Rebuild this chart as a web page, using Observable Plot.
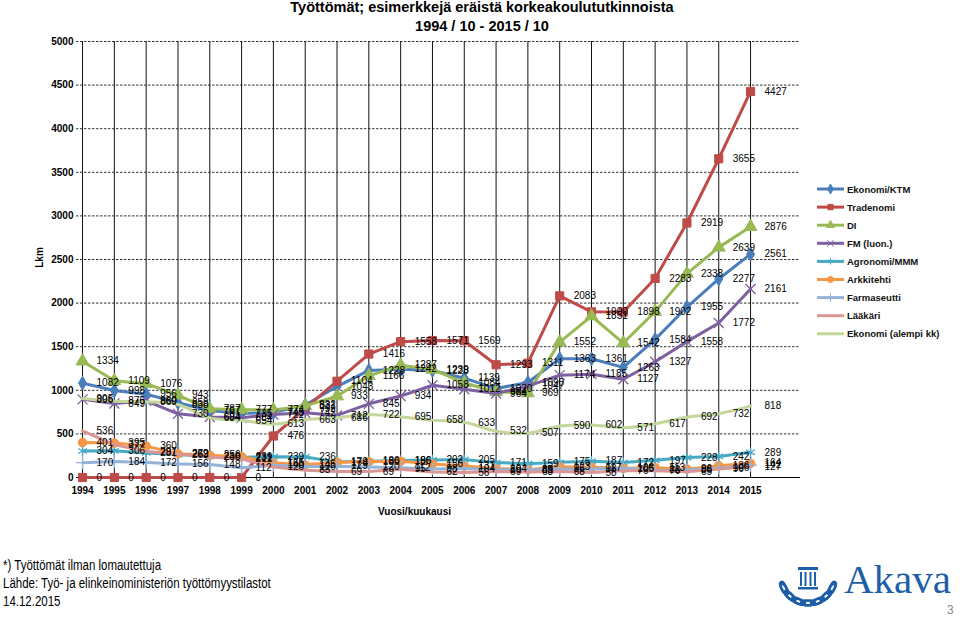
<!DOCTYPE html>
<html><head><meta charset="utf-8">
<script src="https://cdn.jsdelivr.net/npm/d3@7"></script>
<script src="https://cdn.jsdelivr.net/npm/@observablehq/plot@0.6"></script>
<style>
body{margin:0;background:#fff;font-family:"Liberation Sans",Arial,sans-serif;}
#wrap{position:relative;width:960px;height:621px;overflow:hidden;background:#fff;}
#chart{position:absolute;left:0;top:0;}
.abs{position:absolute;white-space:nowrap;}
#t1{left:0;width:964px;text-align:center;top:-1px;font-weight:bold;font-size:14.5px;}
#t2{left:0;width:964px;text-align:center;top:18px;font-weight:bold;font-size:14.5px;}
#lkm{left:29px;top:252px;font-size:10px;font-weight:bold;transform:rotate(-90deg);transform-origin:center;}
#xlab{left:378px;top:506px;font-size:10px;font-weight:bold;}
#foot{left:3px;top:556px;font-family:"Liberation Sans Narrow","Liberation Sans",sans-serif;font-size:14px;line-height:18px;color:#000;transform:scaleX(0.82);transform-origin:left top;}
#pg{left:947px;top:603px;font-size:12px;color:#888;}
#legend{left:810px;top:178px;}
#logo{left:768px;top:544px;}
</style></head><body>
<div id="wrap">
<div id="chart"></div>
<div class="abs" id="t1">Työttömät; esimerkkejä eräistä korkeakoulututkinnoista</div>
<div class="abs" id="t2">1994 / 10 - 2015 / 10</div>
<div class="abs" id="lkm">Lkm</div>
<div class="abs" id="xlab">Vuosi/kuukausi</div>
<div class="abs" id="legend"></div>
<div class="abs" id="foot">*) Työttömät ilman lomautettuja<br>Lähde: Työ- ja elinkeinoministeriön työttömyystilastot<br>14.12.2015</div>
<div class="abs" id="logo"></div>
<div class="abs" id="pg">3</div>
</div>
<script>
// ---- data ----
const years = [1994,1995,1996,1997,1998,1999,2000,2001,2002,2003,2004,2005,2006,2007,2008,2009,2010,2011,2012,2013,2014,2015];
const yTicks = [0,500,1000,1500,2000,2500,3000,3500,4000,4500,5000];
const seriesNames = ["Ekonomi/KTM","Tradenomi","DI","FM (luon.)","Agronomi/MMM","Arkkitehti","Farmaseutti","Lääkäri","Ekonomi (alempi kk)"];
const ekonomiKTM = [1082,998,956,858,767,735,745,832,1043,1228,1242,1228,1139,1020,1090,1363,1361,1263,1584,1955,2277,2561];
const tradenomi  = [0,0,0,0,0,0,476,792,1104,1416,1558,1571,1569,1293,1311,2083,1900,1898,2283,2919,3655,4427];
const di         = [1334,1109,1076,943,787,777,774,821,933,1166,1287,1239,1084,984,969,1552,1851,1542,1902,2338,2639,2876];
const fm         = [896,849,880,730,694,684,722,742,712,845,934,1058,1012,964,1047,1174,1185,1127,1327,1558,1772,2161];
const agronomi   = [304,306,281,263,240,231,239,236,179,186,196,202,205,171,159,175,187,172,197,228,242,289];
const arkkitehti = [401,395,360,272,256,239,165,145,174,180,186,156,131,104,89,123,117,105,113,96,136,164];
const farmaseutti= [170,184,172,156,148,112,140,126,129,120,112,98,104,89,88,95,98,106,83,86,106,142];
const laakari    = [536,377,297,269,236,212,120,83,69,69,95,62,56,69,63,68,58,76,76,65,96,127];
const ekonomiAlempi = [905,875,869,838,684,654,613,663,686,722,695,658,633,532,507,590,602,571,617,692,732,818];
const seriesValues = [ekonomiKTM,tradenomi,di,fm,agronomi,arkkitehti,farmaseutti,laakari,ekonomiAlempi];

// ---- style ----
const colors = ["#4a7ebb","#be4b48","#98b954","#7d60a0","#46aac5","#f79646","#95b3d7","#d99694","#c3d69b"];
const symbols = ["diamond","square","triangle","times","asterisk","circle","plus",null,null];
const symR = [4.2,4.6,4.8,4.6,4.8,4.3,4.3,0,0];

const rows = [];
seriesNames.forEach((name,i)=>seriesValues[i].forEach((v,j)=>rows.push({series:name,idx:i,year:years[j],value:v})));

const marks = [
  Plot.ruleY(yTicks.filter(d=>d>0),{stroke:"#000",strokeWidth:0.8,strokeDasharray:"2.5,1.5"}),
  Plot.ruleX(years,{y1:0,y2:5000,stroke:"#111",strokeWidth:1}),
  Plot.ruleY([0],{stroke:"#000",strokeWidth:1}),
  Plot.axisY({ticks:yTicks,tickSize:0,tickPadding:3,fontWeight:"bold",fontSize:10,label:null,tickFormat:d=>String(d)}),
  Plot.axisX({ticks:years,tickSize:0,tickPadding:9,fontWeight:"bold",fontSize:10,label:null,tickFormat:d=>String(d)})
];
seriesNames.forEach((name,i)=>{
  const d = rows.filter(r=>r.idx===i);
  marks.push(Plot.line(d,{x:"year",y:"value",stroke:colors[i],strokeWidth:3,curve:i===8?"catmull-rom":"linear"}));
  const s = symbols[i];
  if(s){
    const stroked = (s==="times"||s==="asterisk"||s==="plus");
    marks.push(Plot.dot(d,{x:"year",y:"value",symbol:()=>s,r:symR[i],
      fill:stroked?"none":colors[i],stroke:colors[i],strokeWidth:stroked?1.3:1}));
  }
});
marks.push(Plot.text(rows,{x:"year",y:"value",text:d=>String(d.value),dx:14,textAnchor:"start",fontSize:10,fill:"#000"}));

const chart = Plot.plot({
  width:960,height:621,
  marginLeft:76,marginRight:160,marginTop:41,marginBottom:144,
  x:{type:"linear",domain:[1993.81,2016.57]},
  y:{domain:[0,5000]},
  symbol:{type:"identity"},
  style:{fontFamily:"'Liberation Sans',Arial,sans-serif",background:"#fff",color:"#000"},
  marks
});
document.getElementById("chart").appendChild(chart);

// ---- legend ----
const lg = d3.select("#legend").append("svg").attr("width",150).attr("height",170);
seriesNames.forEach((name,i)=>{
  const y = 11 + i*18.1;
  const g = lg.append("g");
  g.append("line").attr("x1",7).attr("x2",34).attr("y1",y).attr("y2",y).attr("stroke",colors[i]).attr("stroke-width",3);
  const s = symbols[i];
  if(s){
    const sym = {diamond:d3.symbolDiamond,square:d3.symbolSquare,triangle:d3.symbolTriangle,circle:d3.symbolCircle,times:d3.symbolTimes,asterisk:d3.symbolAsterisk,plus:d3.symbolPlus}[s];
    const stroked = (s==="times"||s==="asterisk"||s==="plus");
    g.append("path").attr("d",d3.symbol(sym,28)()).attr("transform",`translate(20.5,${y})`)
      .attr("fill",stroked?"none":colors[i]).attr("stroke",colors[i]).attr("stroke-width",1);
  }
  g.append("text").attr("x",37).attr("y",y+3.5).attr("font-size","9.5px").attr("font-weight","bold")
    .attr("font-family","'Liberation Sans',Arial,sans-serif").attr("fill","#111").text(name);
});

// ---- logo ----
const lo = d3.select("#logo").append("svg").attr("width",192).attr("height",64);
const blue = "#1d5ea8";
const cx=40, cy=32;
for(let k=0;k<7;k++){
  const a1 = (205 + k*21)*Math.PI/180, a2 = (-25 - k*21)*Math.PI/180;
  [a1,a2].forEach(a=>{
    const x = cx+27*Math.cos(a), y = cy-27*Math.sin(a);
    lo.append("ellipse").attr("cx",x).attr("cy",y).attr("rx",2.4).attr("ry",6)
      .attr("transform",`rotate(${-a*180/Math.PI} ${x} ${y})`).attr("fill","none").attr("stroke",blue).attr("stroke-width",2.4);
  });
}
lo.append("rect").attr("x",cx-10).attr("y",cy-9).attr("width",20).attr("height",3).attr("fill",blue);
[-7,-2.5,2.5,7].forEach(dx=>lo.append("rect").attr("x",cx+dx-1).attr("y",cy-4).attr("width",2).attr("height",14).attr("fill",blue));
lo.append("rect").attr("x",cx-10).attr("y",cy+11).attr("width",20).attr("height",2.5).attr("fill",blue);
lo.append("text").attr("x",76).attr("y",49).attr("font-family","'Liberation Serif','DejaVu Serif',serif")
  .attr("font-size","41px").attr("fill",blue).text("Akava");
</script>
</body></html>
